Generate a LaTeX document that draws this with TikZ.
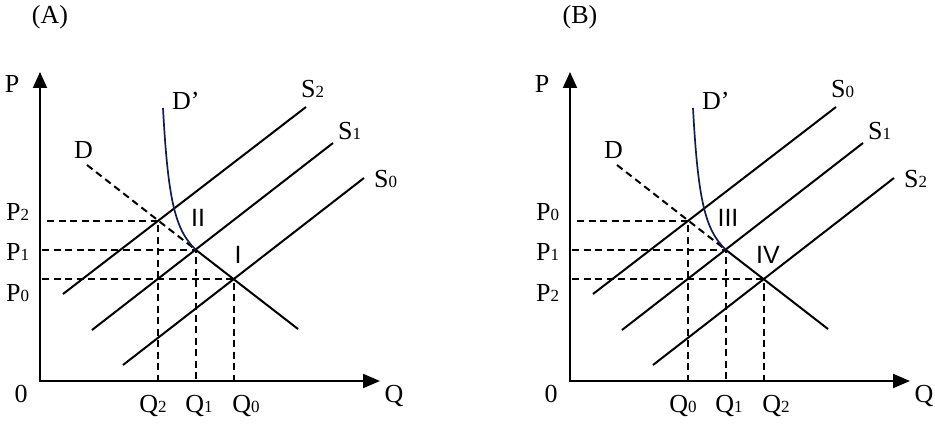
\documentclass[tikz,border=0pt]{standalone}
\usepackage{fontspec}
\setmainfont{Liberation Serif}
\newfontfamily\romsans{Liberation Sans}
\usetikzlibrary{arrows.meta,calc}
\newcommand\sbd[1]{{\fontsize{17}{17}\selectfont #1}}
\definecolor{navyc}{RGB}{18,28,78}
\tikzset{
  axisln/.style={line width=2pt, line join=miter, {Triangle[length=16pt,width=14pt]}-{Triangle[length=17pt,width=14pt]}},
  supln/.style={line width=2pt},
  dashln/.style={line width=2pt, dash pattern=on 7pt off 4.5pt},
  dcurve/.style={line width=1.7pt, navyc},
  lbl/.style={inner sep=0pt, font=\fontsize{26}{26}\selectfont},
  roml/.style={inner sep=0pt, font=\romsans\fontsize{25}{25}\selectfont},
}
% #1 prefix, #2 xshift, #3 title, #4 top digit, #5 bottom digit, #6 roman upper, #7 roman lower
\newcommand\econpanel[7]{%
\begin{scope}[xshift=#2]
  \node[lbl] (#1title) at (50,17) {(#3)};
  \coordinate (#1o) at (40,381);
  \coordinate (#1ytip) at (40,72);
  \coordinate (#1xtip) at (380,381);
  \draw[axisln] (#1ytip) -- (#1o) -- (#1xtip);
  % equilibrium points (snapped to the pixel grid)
  \coordinate (#1e2) at (158,221);
  \coordinate (#1e1) at (196,250);
  \coordinate (#1e0) at (234,279);
  \coordinate (#1s2a) at (63,294);  \coordinate (#1s2b) at (306,107);
  \coordinate (#1s1a) at (92,330);  \coordinate (#1s1b) at (333,143);
  \coordinate (#1s0a) at (123,365); \coordinate (#1s0b) at (364,178);
  \coordinate (#1da) at (87,165);   \coordinate (#1db) at (298,329);
  \coordinate (#1dpa) at (163,108);
  % dashed guides
  \draw[dashln] (47,221) -- (#1e2) -- (#1e2 |- #1o);
  \draw[dashln] (42,250) -- (#1e1) -- (#1e1 |- #1o);
  \draw[dashln] (42,279) -- (#1e0) -- (#1e0 |- #1o);
  \draw[dashln] (#1da) -- (#1e1);
  % supply curves
  \draw[supln] (#1s2a) -- (#1s2b);
  \draw[supln] (#1s1a) -- (#1s1b);
  \draw[supln] (#1s0a) -- (#1s0b);
  \draw[supln] (#1e1) -- (#1db);
  % D' curve
  \draw[dcurve] (#1dpa) .. controls (168,200) and (175,230) .. (#1e1);
  % labels
  \node[lbl] (#1P) at (12,84) {P};
  \node[lbl] (#1zero) at (21,394) {0};
  \node[lbl] (#1Q) at (394,396) {Q};
  \node[lbl, anchor=base west] (#1lS2) at (301,98) {S\sbd{#4}};
  \node[lbl, anchor=base west] (#1lS1) at (338,140) {S\sbd{1}};
  \node[lbl, anchor=base west] (#1lS0) at (374,188) {S\sbd{#5}};
  \node[lbl, anchor=base west] (#1lDp) at (172,110) {D’};
  \node[lbl, anchor=base west] (#1lD) at (74,159) {D};
  \node[lbl, anchor=base west] (#1lP2) at (6,220) {P\sbd{#4}};
  \node[lbl, anchor=base west] (#1lP1) at (6,260) {P\sbd{1}};
  \node[lbl, anchor=base west] (#1lP0) at (6,301) {P\sbd{#5}};
  \node[lbl, anchor=base] (#1lQ2) at (153,412) {Q\sbd{#4}};
  \node[lbl, anchor=base] (#1lQ1) at (199,412) {Q\sbd{1}};
  \node[lbl, anchor=base] (#1lQ0) at (246,412) {Q\sbd{#5}};
  \node[roml] (#1r1) at (198,218) {#6};
  \node[roml] (#1r2) at (238,255) {#7};
\end{scope}}
\begin{document}
\begin{tikzpicture}[x=1pt,y=-1pt]
  \useasboundingbox (0,0) rectangle (935,425);
  \econpanel{a}{0pt}{A}{2}{0}{II}{I}
  \econpanel{b}{530pt}{B}{0}{2}{III}{IV}
\end{tikzpicture}
\end{document}
